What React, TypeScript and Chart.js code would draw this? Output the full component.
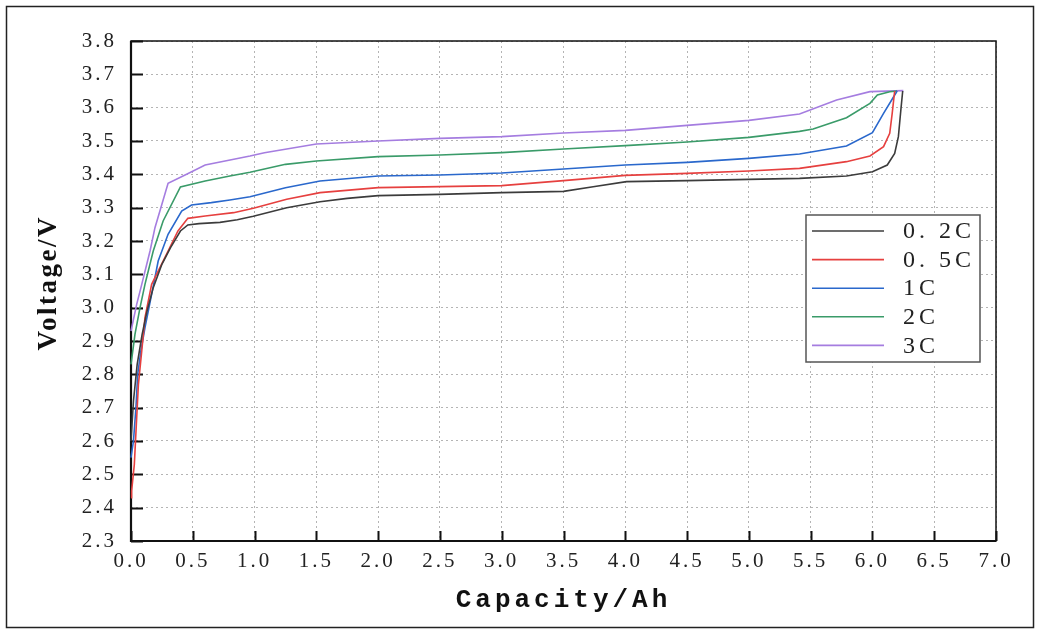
import React, { useEffect, useRef } from "react";
import { Chart, registerables } from "chart.js";

Chart.register(...registerables);

// ---- data ----
const seriesLabels = ["0. 2C", "0. 5C", "1C", "2C", "3C"];
const seriesColors = ["#3c3c3c", "#e6403f", "#2a68cc", "#3a9b69", "#a57de0"];

const cap02 = [0, 0.02, 0.05, 0.09, 0.13, 0.18, 0.25, 0.32, 0.4, 0.46, 0.55, 0.72, 0.86, 0.99, 1.26, 1.53, 1.75, 2.0, 2.5, 3.0, 3.5, 3.74, 4.01, 4.5, 5.0, 5.41, 5.79, 6.0, 6.12, 6.18, 6.21, 6.23, 6.245];
const volt02 = [2.6, 2.72, 2.83, 2.92, 2.99, 3.06, 3.13, 3.18, 3.23, 3.248, 3.252, 3.256, 3.264, 3.274, 3.3, 3.318, 3.328, 3.336, 3.34, 3.345, 3.349, 3.363, 3.378, 3.381, 3.385, 3.388, 3.395, 3.408, 3.428, 3.463, 3.513, 3.593, 3.65];

const cap05 = [0, 0.005, 0.027, 0.046, 0.06, 0.087, 0.113, 0.167, 0.3, 0.38, 0.46, 0.6, 0.83, 0.99, 1.26, 1.53, 2.0, 2.5, 3.0, 3.5, 4.0, 4.5, 5.0, 5.41, 5.79, 5.98, 6.09, 6.14, 6.16, 6.18];
const volt05 = [2.43, 2.45, 2.53, 2.67, 2.77, 2.87, 2.97, 3.07, 3.17, 3.23, 3.268, 3.275, 3.285, 3.298, 3.325, 3.345, 3.36, 3.363, 3.366, 3.381, 3.397, 3.403, 3.41, 3.418, 3.438, 3.455, 3.483, 3.523, 3.583, 3.65];

const cap1 = [0, 0.02, 0.04, 0.054, 0.08, 0.113, 0.167, 0.22, 0.3, 0.41, 0.49, 0.65, 0.8, 0.963, 1.25, 1.53, 2.0, 2.5, 3.0, 3.5, 4.0, 4.5, 5.0, 5.41, 5.79, 6.0, 6.09, 6.2];
const volt1 = [2.55, 2.6, 2.7, 2.8, 2.87, 2.94, 3.04, 3.14, 3.22, 3.29, 3.308, 3.315, 3.323, 3.333, 3.36, 3.38, 3.395, 3.398, 3.404, 3.416, 3.428, 3.436, 3.448, 3.461, 3.485, 3.525, 3.583, 3.65];

const cap2 = [0, 0.032, 0.073, 0.113, 0.18, 0.26, 0.4, 0.6, 0.8, 0.963, 1.25, 1.5, 2.0, 2.5, 3.0, 3.5, 4.0, 4.5, 5.0, 5.41, 5.52, 5.79, 5.98, 6.04, 6.14, 6.2];
const volt2 = [2.83, 2.92, 3.0, 3.07, 3.17, 3.26, 3.362, 3.38, 3.395, 3.406, 3.43, 3.44, 3.453, 3.458, 3.465, 3.476, 3.486, 3.497, 3.511, 3.529, 3.536, 3.57, 3.613, 3.638, 3.648, 3.65];

const cap3 = [0, 0.046, 0.087, 0.154, 0.194, 0.3, 0.45, 0.6, 0.963, 1.08, 1.5, 2.0, 2.5, 3.0, 3.5, 4.0, 4.5, 5.0, 5.41, 5.71, 5.98, 6.25];
const volt3 = [2.93, 3.01, 3.07, 3.17, 3.24, 3.373, 3.4, 3.428, 3.455, 3.465, 3.491, 3.5, 3.508, 3.513, 3.524, 3.532, 3.547, 3.562, 3.581, 3.623, 3.648, 3.651];

const seriesCaps = [cap02, cap05, cap1, cap2, cap3];
const seriesVolts = [volt02, volt05, volt1, volt2, volt3];

const xTickValues = [0, 0.5, 1, 1.5, 2, 2.5, 3, 3.5, 4, 4.5, 5, 5.5, 6, 6.5, 7];
const xTickLabels = ["0.0", "0.5", "1.0", "1.5", "2.0", "2.5", "3.0", "3.5", "4.0", "4.5", "5.0", "5.5", "6.0", "6.5", "7.0"];
const yTickValues = [2.3, 2.4, 2.5, 2.6, 2.7, 2.8, 2.9, 3.0, 3.1, 3.2, 3.3, 3.4, 3.5, 3.6, 3.7, 3.8];
const yTickLabels = ["2.3", "2.4", "2.5", "2.6", "2.7", "2.8", "2.9", "3.0", "3.1", "3.2", "3.3", "3.4", "3.5", "3.6", "3.7", "3.8"];

const xTitle = "Capacity/Ah";
const yTitle = "Voltage/V";

const decorPlugin = {
  id: "decor",
  beforeDraw(chart: any) {
    chart.ctx.letterSpacing = "3px";
  },
  beforeDatasetsDraw(chart: any) {
    const { ctx, chartArea, scales } = chart;
    const { left, right, top, bottom } = chartArea;
    ctx.save();
    ctx.letterSpacing = "0px";
    ctx.setLineDash([]);
    ctx.strokeStyle = "#111";
    ctx.lineWidth = 1.5;
    ctx.strokeRect(left, top, right - left, bottom - top);
    ctx.lineWidth = 2.2;
    ctx.beginPath();
    ctx.moveTo(left, top);
    ctx.lineTo(left, bottom);
    ctx.lineTo(right, bottom);
    ctx.stroke();
    ctx.lineWidth = 2;
    ctx.beginPath();
    yTickValues.forEach((v) => {
      const y = Math.round(scales.y.getPixelForValue(v)) + 0.5;
      ctx.moveTo(left, y);
      ctx.lineTo(left + 12, y);
    });
    xTickValues.forEach((v) => {
      const x = Math.round(scales.x.getPixelForValue(v)) + 0.5;
      ctx.moveTo(x, bottom);
      ctx.lineTo(x, bottom - 10);
    });
    ctx.stroke();
    ctx.restore();
  },
  afterDraw(chart: any) {
    const { ctx, chartArea } = chart;
    const { left, right, bottom } = chartArea;
    ctx.save();
    // legend
    const lx = 806, ly = 215, lw = 174, lh = 147;
    ctx.letterSpacing = "0px";
    ctx.fillStyle = "#fff";
    ctx.fillRect(lx, ly, lw, lh);
    ctx.strokeStyle = "#555";
    ctx.lineWidth = 1.5;
    ctx.strokeRect(lx, ly, lw, lh);
    ctx.font = "24px 'Liberation Serif'";
    ctx.textBaseline = "middle";
    ctx.textAlign = "left";
    ctx.letterSpacing = "4px";
    chart.data.datasets.forEach((ds: any, i: number) => {
      const y = ly + 16 + i * 28.6;
      ctx.strokeStyle = ds.borderColor;
      ctx.lineWidth = 1.6;
      ctx.beginPath();
      ctx.moveTo(lx + 6, y);
      ctx.lineTo(lx + 78, y);
      ctx.stroke();
      ctx.fillStyle = "#222";
      ctx.fillText(ds.label, lx + 97, y + 1);
    });
    // x title
    ctx.fillStyle = "#111";
    ctx.font = "bold 26px 'Liberation Mono'";
    ctx.letterSpacing = "4px";
    const wx = ctx.measureText(xTitle).width - 4;
    ctx.textAlign = "left";
    ctx.fillText(xTitle, 561.5 - wx / 2, 600);
    // y title
    ctx.translate(49, 284);
    ctx.rotate(-Math.PI / 2);
    ctx.font = "bold 27px 'Liberation Serif'";
    ctx.letterSpacing = "2.5px";
    const wy = ctx.measureText(yTitle).width - 2.5;
    ctx.fillText(yTitle, -wy / 2, 0);
    ctx.restore();
    // outer border
    ctx.save();
    ctx.letterSpacing = "0px";
    ctx.strokeStyle = "#222";
    ctx.lineWidth = 1.5;
    ctx.strokeRect(6.5, 6.5, 1027, 621);
    ctx.restore();
  },
};

export default function App() {
  const ref = useRef<HTMLCanvasElement>(null);
  useEffect(() => {
    document.body.style.margin = "0";
    const canvas = ref.current!;
    const datasets = seriesLabels.map((label, i) => ({
      label,
      data: seriesCaps[i].map((c, j) => ({ x: c, y: seriesVolts[i][j] })),
      borderColor: seriesColors[i],
      backgroundColor: seriesColors[i],
      borderWidth: 1.6,
      pointRadius: 0,
      tension: 0,
      clip: false as any,
    }));
    const chart = new Chart(canvas, {
      type: "line",
      data: { datasets },
      plugins: [decorPlugin],
      options: {
        animation: false,
        responsive: false,
        devicePixelRatio: 1,
        layout: { padding: { top: 41, right: 45, left: 0, bottom: 0 } },
        plugins: { legend: { display: false }, tooltip: { enabled: false } },
        scales: {
          x: {
            type: "linear",
            min: 0,
            max: 7,
            afterFit: (s: any) => {
              s.height = 92;
            },
            afterBuildTicks: (s: any) => {
              s.ticks = xTickValues.map((v) => ({ value: v }));
            },
            ticks: {
              autoSkip: false,
              maxRotation: 0,
              padding: 8,
              color: "#222",
              font: { family: "'Liberation Serif'", size: 21 },
              callback: (v: any) => {
                const k = xTickValues.findIndex((t) => Math.abs(t - v) < 1e-6);
                return k >= 0 ? xTickLabels[k] : "";
              },
            },
            grid: { color: "#b4b4b4", lineWidth: 1, drawTicks: false },
            border: { display: false, dash: [2, 3] },
          },
          y: {
            type: "linear",
            min: 2.3,
            max: 3.8,
            afterFit: (s: any) => {
              s.width = 131;
            },
            afterBuildTicks: (s: any) => {
              s.ticks = yTickValues.map((v) => ({ value: v }));
            },
            ticks: {
              autoSkip: false,
              padding: 14,
              color: "#222",
              font: { family: "'Liberation Serif'", size: 21 },
              callback: (v: any) => {
                const k = yTickValues.findIndex((t) => Math.abs(t - v) < 1e-6);
                return k >= 0 ? yTickLabels[k] : "";
              },
            },
            grid: { color: "#b4b4b4", lineWidth: 1, drawTicks: false },
            border: { display: false, dash: [2, 3] },
          },
        },
      },
    });
    return () => chart.destroy();
  }, []);
  return (
    <canvas
      ref={ref}
      width={1041}
      height={633}
      style={{ display: "block", width: 1041, height: 633 }}
    />
  );
}
